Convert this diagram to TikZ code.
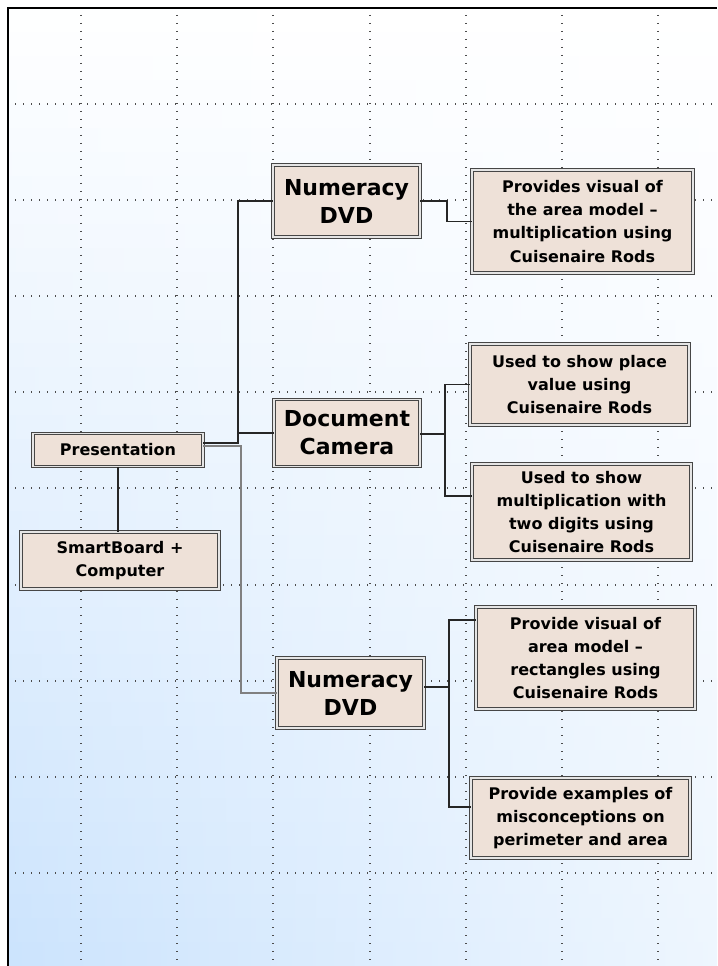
\documentclass[tikz,border=0pt]{standalone}
\usepackage{fontspec}
\setmainfont{DejaVu Sans}
\usepackage{xcolor}
\usetikzlibrary{positioning}
\definecolor{boxfill}{RGB}{238,225,216}
\definecolor{boxline}{RGB}{70,70,70}
\definecolor{skyblue}{RGB}{186,218,252}

\begin{document}
\begin{tikzpicture}[x=0.75pt, y=-0.75pt,
    box/.style={draw=boxline, double=gray!20, line width=0.65pt, double distance=1.1pt,
        fill=boxfill, align=center, inner sep=0pt, font=\bfseries\fontsize{12}{17.3}\selectfont},
    bigbox/.style={box, font=\bfseries\fontsize{16.5}{21}\selectfont},
    link/.style={black!85, line width=0.8pt},
    glink/.style={gray, line width=1.3pt},
    gridline/.style={gray!60!black, line width=0.8pt, dash pattern=on 0.8pt off 5.2pt}
]
    \useasboundingbox (0,0) rectangle (717,966);

    % Page background: blue at the lower left, white to the top and right
    \begin{scope}
        \clip (9,9) rectangle (717,966);
        \foreach \k [evaluate=\k as \p using (\k+0.5)*2.5,
                     evaluate=\k as \ya using 9+\k*23.925] in {0,...,39}
            \shade[left color=skyblue!\p!white, right color=white]
                (-345,\ya) rectangle (1071,\ya+24.6);
    \end{scope}
    \foreach \gx in {81,177,273,370,466,562,658}
        \draw[gridline] (\gx,15) -- (\gx,966);
    \foreach \gy in {104,200,296,392,488,585,681,777,873}
        \draw[gridline] (15,\gy) -- (717,\gy);
    \draw[line width=2pt] (8,966) -- (8,8) -- (717,8);

    % Root and its device
    \node[box, minimum width=127.5pt, minimum height=24.75pt] (pres) at (118,450) {Presentation};
    \node[box, minimum width=148.5pt, minimum height=42.75pt] (smart) at (120,560.5) {SmartBoard +\\Computer};

    % Middle column
    \node[bigbox, minimum width=110.25pt, minimum height=54pt] (numtop) at (346.5,201) {Numeracy\\DVD};
    \node[bigbox, minimum width=109.5pt, minimum height=50.25pt] (doccam) at (347,433) {Document\\Camera};
    \node[bigbox, minimum width=110.25pt, minimum height=52.5pt] (numbot) at (350.5,693) {Numeracy\\DVD};

    % Right column
    \node[box, minimum width=165.75pt, minimum height=77.25pt] (visual) at (582.5,221.5)
        {Provides visual of\\the area model \textendash\\multiplication using\\Cuisenaire Rods};
    \node[box, minimum width=164.25pt, minimum height=60.75pt] (place) at (579.5,384.5)
        {Used to show place\\value using\\Cuisenaire Rods};
    \node[box, minimum width=164.25pt, minimum height=72pt] (mult) at (581.5,512)
        {Used to show\\multiplication with\\two digits using\\Cuisenaire Rods};
    \node[box, minimum width=164.25pt, minimum height=76.5pt] (area) at (585.5,658)
        {Provide visual of\\area model \textendash\\rectangles using\\Cuisenaire Rods};
    \node[box, minimum width=164.25pt, minimum height=60pt] (misc) at (580.5,818)
        {Provide examples of\\misconceptions on\\perimeter and area};

    % Connectors from the root
    \coordinate (j1) at (238,443);
    \coordinate (j2) at (241,446);
    \draw[link] (pres.east |- j1) -- (j1) |- (numtop.west);
    \draw[link] (j1 |- doccam.west) -- (doccam.west);
    \draw[glink] (pres.east |- j2) -- (j2) |- (numbot.west);
    \draw[link] (pres.south) -- (pres.south |- smart.north);

    % Connectors to the right column
    \coordinate (j3) at (447,201);
    \draw[link] (numtop.east) -- (j3) |- (visual.west);
    \coordinate (j4) at (445,434);
    \draw[link] (doccam.east |- j4) -- (j4) |- (place.west);
    \draw[link] (j4) |- ([yshift=12pt]mult.west);
    \coordinate (j5) at (449,687);
    \draw[link] (numbot.east |- j5) -- (j5) |- ([yshift=28.5pt]area.west);
    \draw[link] (j5) |- ([yshift=8.25pt]misc.west);
\end{tikzpicture}
\end{document}
